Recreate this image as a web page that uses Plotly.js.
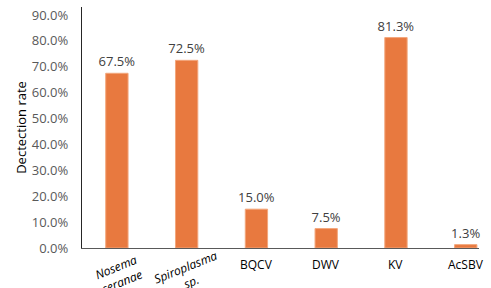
<!DOCTYPE html>
<html><head><meta charset="utf-8">
<script src="https://cdn.plot.ly/plotly-3.0.1.min.js"></script>
<style>html,body{margin:0;padding:0;background:#fff}#c{width:491px;height:288px}</style>
</head><body><div id="c"></div>
<script>
const categories = ["<i>Nosema<br>ceranae</i>", "<i>Spiroplasma<br>sp.</i>", "BQCV", "DWV", "KV", "AcSBV"];
const detectionRate = [0.675, 0.725, 0.150, 0.075, 0.813, 0.013];
const valueLabels = ["67.5%", "72.5%", "15.0%", "7.5%", "81.3%", "1.3%"];
const yTitle = "Dectection rate";

const font = "Open Sans, Noto Sans, sans-serif";
const idx = categories.map((_, i) => i);

const trace = {
  type: "bar",
  x: idx,
  y: detectionRate,
  text: valueLabels,
  textposition: "outside",
  constraintext: "none",
  cliponaxis: false,
  textfont: {family: font, size: 13, color: "#404040"},
  outsidetextfont: {family: font, size: 13, color: "#404040"},
  marker: {color: "#E8793F", line: {color: "#F3A77C", width: 1}},
  width: 0.32,
  hoverinfo: "none"
};

const annotations = categories.map((c, i) => {
  const rotated = c.indexOf("<br>") >= 0;
  return {
    x: i, xref: "x", y: 0, yref: "paper",
    text: c, showarrow: false,
    textangle: rotated ? -22 : 0,
    xanchor: "center", yanchor: rotated ? "middle" : "top",
    yshift: rotated ? -26 : -6,
    xshift: rotated ? 2 : 0,
    font: {family: font, size: 12, color: "#000"}
  };
});

const layout = {
  width: 491, height: 288,
  margin: {l: 82, r: 12, t: 7, b: 40},
  paper_bgcolor: "#fff", plot_bgcolor: "#fff",
  showlegend: false,
  bargap: 0.68,
  xaxis: {
    range: [-0.5, 5.19],
    showticklabels: false, ticks: "", showgrid: false, zeroline: false,
    showline: true, linecolor: "#595959", linewidth: 1.2
  },
  yaxis: {
    range: [0, 0.931],
    tickvals: [0, 0.1, 0.2, 0.3, 0.4, 0.5, 0.6, 0.7, 0.8, 0.9],
    tickformat: ".1%",
    showgrid: false, zeroline: false,
    showline: true, linecolor: "#262626", linewidth: 1.2,
    ticks: "", ticklabelstandoff: 10,
    tickfont: {family: font, size: 13, color: "#595959"},
    title: {text: yTitle, font: {family: font, size: 13, color: "#000"}, standoff: 2}
  },
  annotations: annotations
};

Plotly.newPlot("c", [trace], layout, {staticPlot: true, displayModeBar: false});
</script></body></html>
